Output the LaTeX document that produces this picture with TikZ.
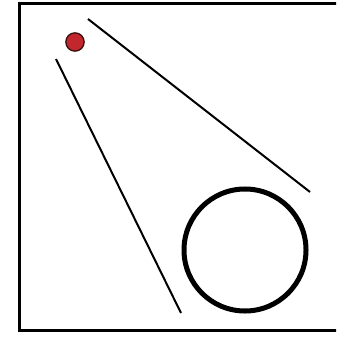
\documentclass[tikz,border=0pt]{standalone}
\usepackage{tikz}
\usetikzlibrary{positioning}
\definecolor{DotRed}{HTML}{C1272D}
\definecolor{DotEdge}{HTML}{3A1010}

\begin{document}
\begin{tikzpicture}[
  x=0.03cm, y=-0.03cm,
  frame/.style={draw, line width=0.09cm},
  ray/.style={draw, line width=0.06cm},
  dot/.style={
    circle,
    draw=DotEdge,
    fill=DotRed,
    line width=0.04cm,
    minimum size=0.55cm,
    inner sep=0pt
  },
  ring/.style={
    circle,
    draw,
    line width=0.15cm,
    minimum size=3.66cm,
    inner sep=0pt
  }
]

% =========================================================
% PAGE AND FRAME
% =========================================================

\useasboundingbox (0,0) rectangle (336,343);
\clip (0,0) rectangle (336,343);

\draw[frame] (19.5,3.5) rectangle (345,330);

% =========================================================
% SOURCE AND TARGET
% =========================================================

\node[dot] (source) at (75,42) {};

\node[ring] (target) at (245,250) {};

% =========================================================
% CONE EDGES
% =========================================================

\coordinate (upperA) at (88,19);
\coordinate (upperB) at (310,192);
\coordinate (lowerA) at (56,59);
\coordinate (lowerB) at (181,313);

\draw[ray] (upperA) -- (upperB);
\draw[ray] (lowerA) -- (lowerB);

\end{tikzpicture}
\end{document}
